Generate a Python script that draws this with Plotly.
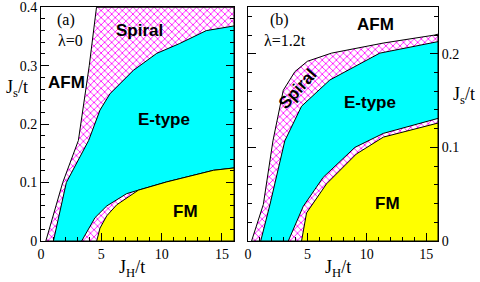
import plotly.graph_objects as go

# ---------------- data ----------------
# Panel (a): lambda = 0
afm_a_x = [0.4, 1.8, 3.1, 4.0, 4.6]
afm_a_y = [0.0, 0.1, 0.172, 0.3, 0.4]
etype_a_x = [1.03, 2.1, 3.95, 4.89, 5.72, 7.66, 9.59, 11.5, 13.7, 16.0]
etype_a_y = [0.0, 0.1, 0.172, 0.224, 0.252, 0.292, 0.321, 0.338, 0.360, 0.368]
pocket_a_x = [3.37, 3.92, 4.48, 5.45, 7.1, 8.07, 10.4, 14.3, 16.0]
pocket_a_y = [0.0, 0.02, 0.04, 0.06, 0.081, 0.087, 0.101, 0.121, 0.125]
fm_a_x = [4.62, 4.89, 5.45, 6.28, 8.07, 10.4, 14.3, 16.0]
fm_a_y = [0.0, 0.022, 0.043, 0.062, 0.087, 0.101, 0.121, 0.125]

# Panel (b): lambda = 1.2t
afm_b_x = [0.3, 1.29, 2.1, 2.97, 3.95, 5.0, 7.03, 11.4, 15.7, 16.0]
afm_b_y = [0.0, 0.039, 0.107, 0.161, 0.181, 0.192, 0.2007, 0.2115, 0.220, 0.221]
etype_b_x = [1.07, 1.85, 3.1, 4.51, 6.89, 11.1, 16.0]
etype_b_y = [0.0, 0.039, 0.107, 0.144, 0.172, 0.2007, 0.213]
pocket_b_x = [3.39, 4.65, 6.33, 9.0, 11.4, 16.0]
pocket_b_y = [0.0, 0.037, 0.068, 0.100, 0.115, 0.131]
fm_b_x = [4.51, 4.93, 6.61, 9.13, 11.4, 16.0]
fm_b_y = [0.0, 0.030, 0.061, 0.093, 0.111, 0.126]

x_range = [0, 16]
y_range_a = [0, 0.4]
y_range_b = [0, 0.25]
x_dtick = 5
y_dtick = 0.1

MAGENTA = "#ff00ff"
CYAN = "#00ffff"
YELLOW = "#ffff00"
SERIF = "Liberation Serif"
SANS = "Liberation Sans"

fig = go.Figure()


def region(xs, ys, xa, ya, top, color=None, hatch=False):
    """Polygon under a boundary curve, closed to the lower-right corner."""
    px = list(xs)
    py = list(ys)
    if top is not None:
        px = px + [x_range[1]]
        py = py + [top]
    px = px + [x_range[1], xs[0]]
    py = py + [0, 0]
    kw = dict(x=px, y=py, xaxis=xa, yaxis=ya, mode="lines", fill="toself",
              line=dict(color="black", width=1), hoverinfo="skip", showlegend=False)
    if hatch:
        kw["fillcolor"] = "white"
        kw["fillpattern"] = dict(shape="x", fgcolor=MAGENTA, bgcolor="white",
                                 size=5, solidity=0.3, fillmode="replace")
    else:
        kw["fillcolor"] = color
    fig.add_trace(go.Scatter(**kw))


# panel (a)
region(afm_a_x, afm_a_y, "x", "y", y_range_a[1], hatch=True)
region(etype_a_x, etype_a_y, "x", "y", None, color=CYAN)
region(pocket_a_x, pocket_a_y, "x", "y", None, hatch=True)
region(fm_a_x, fm_a_y, "x", "y", None, color=YELLOW)

# panel (b)
region(afm_b_x, afm_b_y, "x2", "y2", None, hatch=True)
region(etype_b_x, etype_b_y, "x2", "y2", None, color=CYAN)
region(pocket_b_x, pocket_b_y, "x2", "y2", None, hatch=True)
region(fm_b_x, fm_b_y, "x2", "y2", None, color=YELLOW)

W, H = 480, 282
L, R, T, B = 41, 42, 7, 41
PW = W - L - R
PH = H - T - B
dom_a = [0, (234 - L) / PW]
dom_b = [(248 - L) / PW, 1]

tickfont = dict(family=SERIF, size=14, color="black")
common_x = dict(range=x_range, tickmode="linear", tick0=0, dtick=x_dtick,
                ticks="inside", ticklen=8,
                tickwidth=1, tickcolor="black", showline=True, linecolor="black",
                linewidth=1, mirror=True, showgrid=False, zeroline=False,
                tickfont=tickfont, automargin=False,
                minor=dict(dtick=1, ticks="inside", ticklen=4, tickcolor="black",
                           showgrid=False))
common_y = dict(tickmode="linear", tick0=0, dtick=y_dtick,
                ticks="inside", ticklen=8, tickwidth=1, tickcolor="black",
                showline=True, linecolor="black", linewidth=1, mirror="ticks",
                showgrid=False, zeroline=False, tickfont=tickfont, automargin=False,
                ticklabeloverflow="allow",
                minor=dict(dtick=0.02, ticks="inside", ticklen=4,
                           tickcolor="black", showgrid=False))

fig.update_layout(
    width=W, height=H,
    margin=dict(l=L, r=R, t=T, b=B, pad=0, autoexpand=False),
    plot_bgcolor="white", paper_bgcolor="white",
    font=dict(family=SERIF, size=14, color="black"),
    xaxis=dict(domain=dom_a, anchor="y", **common_x),
    yaxis=dict(domain=[0, 1], anchor="x", range=[y_range_a[0], y_range_a[1] * 1.001],
               **common_y),
    xaxis2=dict(domain=dom_b, anchor="y2", **common_x),
    yaxis2=dict(domain=[0, 1], anchor="x2", range=y_range_b, side="right", **common_y),
)


def px2paper(px, py):
    return (px - L) / PW, (H - B - py) / PH


def note(text, px, py, font, angle=0):
    x, y = px2paper(px, py)
    fig.add_annotation(text=text, x=x, y=y, xref="paper", yref="paper",
                       showarrow=False, font=font, textangle=angle,
                       xanchor="center", yanchor="middle")


bold = dict(family=SANS, size=17, color="black")
serif16 = dict(family=SERIF, size=16, color="black")
serif18 = dict(family=SERIF, size=18, color="black")

note("(a)", 66, 20, serif16)
note("λ=0", 70, 40, serif16)
note("<b>AFM</b>", 66, 82, bold)
note("<b>Spiral</b>", 139, 31, bold)
note("<b>E-type</b>", 164, 120, bold)
note("<b>FM</b>", 185, 211, bold)

note("(b)", 279, 20, serif16)
note("λ=1.2t", 285, 40, serif16)
note("<b>AFM</b>", 375, 25, bold)
note("<b>E-type</b>", 370, 102, bold)
note("<b>Spiral</b>", 297, 89, bold, angle=-48)
note("<b>FM</b>", 387, 203, bold)

note("J<sub>s</sub>/t", 17, 88, serif18)
note("J<sub>s</sub>/t", 464, 95, serif18)
note("J<sub>H</sub>/t", 132, 268, serif18)
note("J<sub>H</sub>/t", 338, 268, serif18)

fig.write_html("out.html",
               config={"displayModeBar": False},
               post_script="document.body.style.margin='0';document.body.style.padding='0';document.body.style.overflow='hidden';")
